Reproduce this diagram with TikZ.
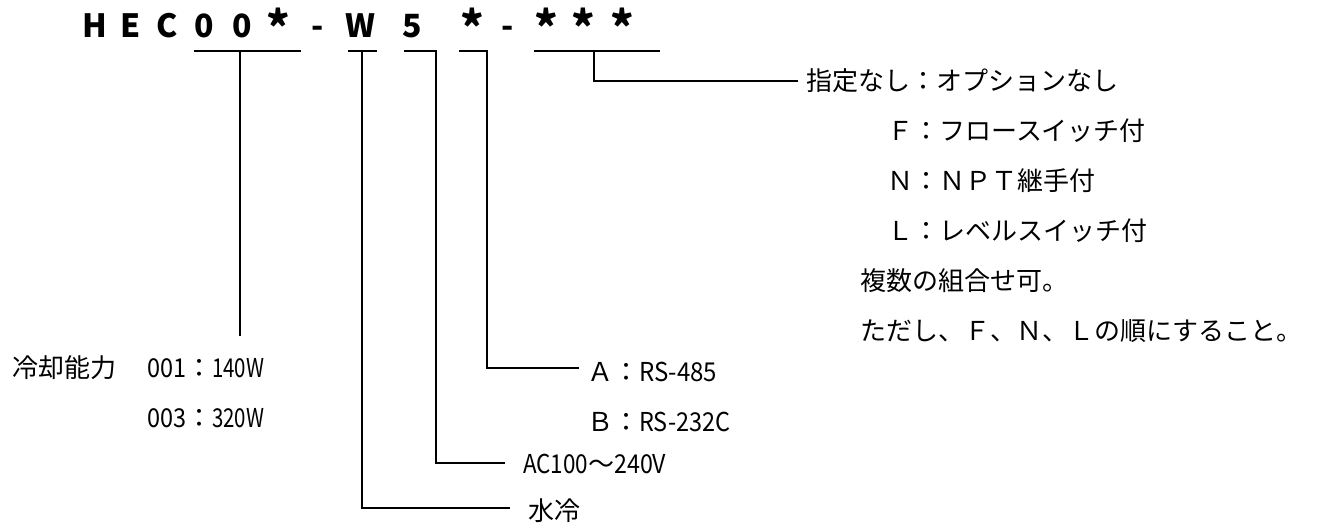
\documentclass[tikz,border=0pt]{standalone}
\usepackage{fontspec}
\usepackage{graphicx}
\setmainfont{Noto Sans CJK JP}
\newdimen\hwu \hwu=9.75pt
\newcommand\hw[2]{\resizebox{#1\hwu}{\height}{#2}}
\newcommand\bigast{\raisebox{-0.24em}{\scalebox{1.4}{*}}}
\tikzset{
  lbl/.style={anchor=base west, inner sep=0pt, font=\fontsize{19.5pt}{19.5pt}\selectfont},
  titlech/.style={anchor=base, inner sep=0pt, font=\fontsize{24pt}{24pt}\selectfont\bfseries},
  ln/.style={line width=1.1pt, line cap=rect}
}
\begin{document}
\begin{tikzpicture}[x=0.75pt, y=-0.75pt]
\useasboundingbox (0,0) rectangle (1317,526);
% title characters
\foreach \c/\x [count=\i] in {H/95, E/131, C/167, 0/204, 0/242, \bigast/278, -/318, W/360, 5/412, \bigast/472, -/508, \bigast/546, \bigast/583, \bigast/622}
  \node[titlech] (t\i) at (\x,37) {\c};
% coordinates
\coordinate (u1a) at (195,51); \coordinate (u1b) at (300,51);
\coordinate (v1a) at (240,51); \coordinate (v1b) at (240,335);
\coordinate (u2a) at (349,51); \coordinate (u2b) at (376,51);
\coordinate (v2a) at (362,51); \coordinate (v2b) at (362,508); \coordinate (e2) at (509,508);
\coordinate (u3a) at (405,51); \coordinate (u3b) at (436,51);
\coordinate (v3b) at (436,463); \coordinate (e3) at (504,463);
\coordinate (u4a) at (460,51); \coordinate (u4b) at (487,51);
\coordinate (v4b) at (487,368); \coordinate (e4) at (578,368);
\coordinate (u5a) at (535,51); \coordinate (u5b) at (659,51);
\coordinate (v5a) at (594,51); \coordinate (v5b) at (594,81); \coordinate (e5) at (797,81);
% lines
\draw[ln] (u1a) -- (u1b);
\draw[ln] (v1a) -- (v1b);
\draw[ln] (u2a) -- (u2b);
\draw[ln] (v2a) -- (v2b) -- (e2);
\draw[ln] (u3a) -- (u3b) -- (v3b) -- (e3);
\draw[ln] (u4a) -- (u4b) -- (v4b) -- (e4);
\draw[ln] (u5a) -- (u5b);
\draw[ln] (v5a) -- (v5b) -- (e5);
% labels
\node[lbl] (cap) at (12,377) {冷却能力};
\node[lbl] (c1) at (147,377) {\hw{3}{001}：\hw{4}{140W}};
\node[lbl] (c3) at (147,427) {\hw{3}{003}：\hw{4}{320W}};
\node[lbl] (la) at (587,381) {Ａ：\hw{6}{RS-485}};
\node[lbl] (lb) at (587,431) {Ｂ：\hw{7}{RS-232C}};
\node[lbl] (lac) at (523,473) {\hw{5}{AC100}～\hw{4}{240V}};
\node[lbl] (lw) at (528,520) {水冷};
\node[lbl] (o0) at (806,90) {指定なし：オプションなし};
\node[lbl] (of) at (887,140) {Ｆ：フロースイッチ付};
\node[lbl] (on) at (887,190) {Ｎ：ＮＰＴ継手付};
\node[lbl] (ol) at (887,240) {Ｌ：レベルスイッチ付};
\node[lbl] (m1) at (860,290) {複数の組合せ可。};
\node[lbl] (m2) at (860,340) {ただし、Ｆ、Ｎ、Ｌの順にすること。};
\end{tikzpicture}
\end{document}
